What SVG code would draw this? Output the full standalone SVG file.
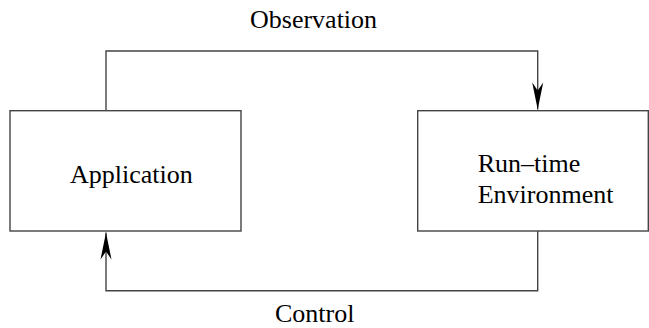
<svg xmlns="http://www.w3.org/2000/svg" width="649" height="328" viewBox="0 0 649 328">
<style>
.box{fill:#fff;stroke:#444;stroke-width:1.4}
.ln{fill:none;stroke:#444;stroke-width:1.4}
text{font-family:"Liberation Serif","Times New Roman",serif;font-size:26px;fill:#000}
</style>
<defs>
<marker id="ah" markerUnits="userSpaceOnUse" markerWidth="29" markerHeight="12" viewBox="-28 -6 29 12" refX="0" refY="0" orient="auto">
<path d="M0,0 L-27,-5.5 L-19,0 L-27,5.5 Z" fill="#000"/>
</marker>
</defs>
<rect width="649" height="328" fill="#fff"/>
<g id="connectors">
<path class="ln" d="M106,110.7 V51 H537.7 V109.5" marker-end="url(#ah)"/>
<path class="ln" d="M537.7,231 V290.7 H106 V232.5" marker-end="url(#ah)"/>
</g>
<g id="application">
<rect class="box" x="10" y="110.7" width="231" height="120.3"/>
<text x="70" y="183">Application</text>
</g>
<g id="runtime">
<rect class="box" x="417.7" y="110.7" width="230.6" height="120.3"/>
<text x="477.7" y="171.5">Run–time</text>
<text x="477.7" y="203">Environment</text>
</g>
<g id="labels">
<text x="250" y="28">Observation</text>
<text x="275" y="322">Control</text>
</g>
</svg>
